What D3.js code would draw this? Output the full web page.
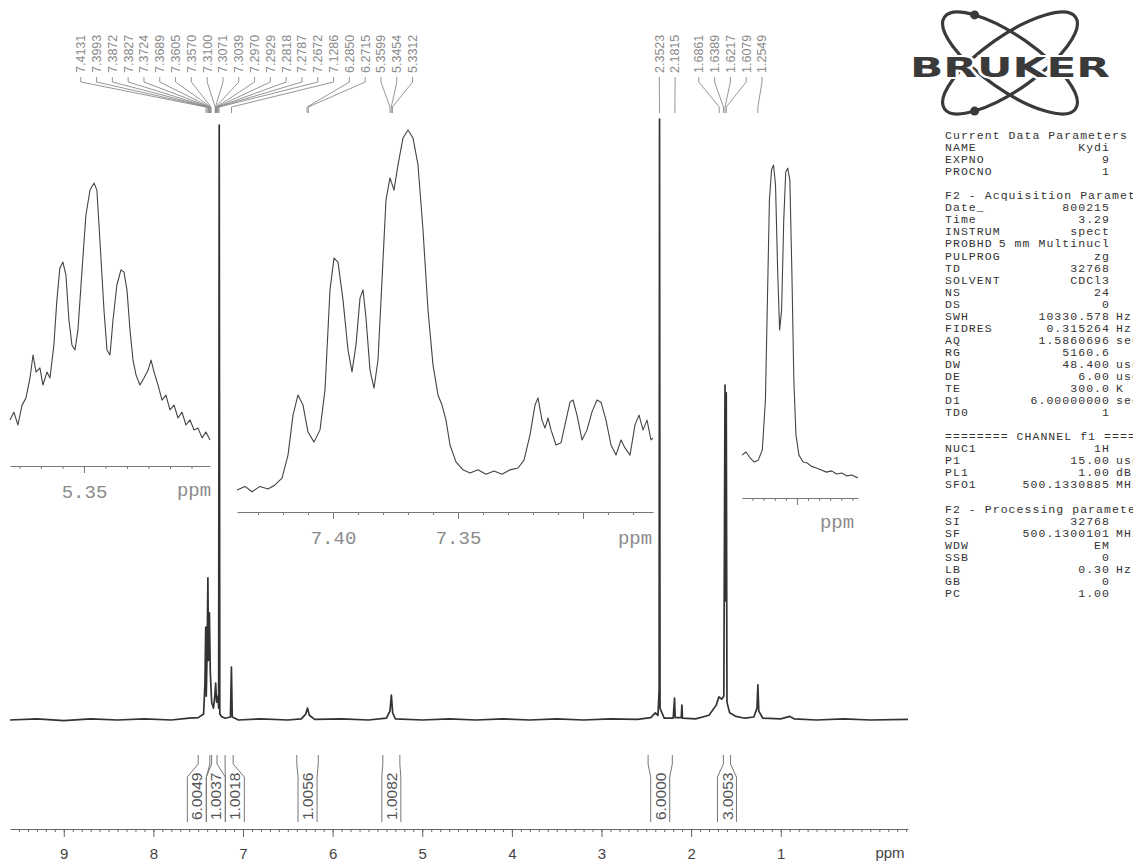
<!DOCTYPE html>
<html>
<head>
<meta charset="utf-8">
<script src="https://cdn.jsdelivr.net/npm/d3@7"></script>
<style>
body { margin: 0; background: #fff; }
svg { display: block; }
</style>
</head>
<body>
<div id="myChart"></div>
<script>
//----- data

// full 1H spectrum, [ppm, intensity], 2.35 singlet ~ 100
var mainTrace = [
  [9.6, 0], [9.3, 0.2], [9.0, -0.1], [8.7, 0.2], [8.4, 0], [8.1, 0.2], [7.8, 0], [7.6, 0.3], [7.5, 0.4],
  [7.44, 1], [7.425, 6], [7.416, 15.6], [7.41, 4], [7.40, 12], [7.392, 23.9], [7.385, 10], [7.375, 18],
  [7.365, 8], [7.35, 3], [7.33, 2], [7.315, 4], [7.305, 6.2], [7.295, 3], [7.28, 4], [7.272, 2],
  [7.2655, 100], [7.259, 1], [7.24, 0.6], [7.20, 0.3], [7.14, 0.5], [7.1295, 8.9], [7.12, 0.5], [7.05, 0],
  [6.8, 0.2], [6.5, 0], [6.35, 0.2], [6.30, 1], [6.28, 2], [6.26, 0.8], [6.2, 0.1], [5.9, 0.2], [5.6, 0],
  [5.4, 0.3], [5.36, 1.5], [5.345, 4.2], [5.33, 1.2], [5.3, 0.2], [5.0, 0], [4.7, 0.2], [4.4, 0], [4.1, 0.2],
  [3.8, 0], [3.5, 0.2], [3.2, 0], [2.9, 0.2], [2.6, 0.1], [2.45, 0.4], [2.40, 1.2], [2.37, 0.8], [2.357, 5],
  [2.3523, 101], [2.347, 2], [2.30, 0.3], [2.20, 0.3], [2.185, 3.7], [2.178, 0.4], [2.11, 0.4], [2.103, 2.5],
  [2.096, 0.3], [1.95, 0.2], [1.80, 0.8], [1.72, 2.5], [1.69, 3.9], [1.66, 3.5], [1.635, 4], [1.6217, 56.3],
  [1.615, 20], [1.608, 55], [1.60, 3], [1.57, 1.2], [1.50, 0.6], [1.40, 0.3], [1.30, 0.5], [1.265, 2],
  [1.2549, 5.9], [1.245, 1.5], [1.20, 0.3], [1.0, 0.2], [0.90, 0.6], [0.85, 0.2], [0.6, 0], [0.3, 0.2],
  [0, 0], [-0.42, 0.1]
];

// expansion 5.29 - 5.38 ppm
var olefinTrace = [
  [5.3844, 14.3], [5.3826, 17.1], [5.3807, 12.5], [5.3788, 19.6], [5.377, 22.1], [5.3751, 29.3],
  [5.3737, 37.5], [5.3723, 31.4], [5.3705, 32.9], [5.3691, 26.8], [5.3672, 31.4], [5.3658, 29.3],
  [5.364, 41.1], [5.3626, 57.1], [5.3612, 68.6], [5.3598, 70.7], [5.3584, 66.1], [5.357, 50],
  [5.3556, 41.1], [5.3542, 39.3], [5.3528, 46.4], [5.3509, 67.9], [5.3491, 87.5], [5.3472, 96.4],
  [5.3453, 98.9], [5.344, 96.4], [5.3426, 78.6], [5.3407, 53.6], [5.3393, 39.3], [5.3379, 37.5],
  [5.3365, 50], [5.3347, 62.5], [5.3328, 67.9], [5.3314, 67.1], [5.33, 60.7], [5.3286, 46.4],
  [5.3272, 35.7], [5.3258, 30.4], [5.324, 26.8], [5.3221, 29.3], [5.3202, 32.1], [5.3188, 35.7],
  [5.3174, 31.4], [5.3156, 26.8], [5.3137, 21.4], [5.3119, 23.2], [5.31, 17.9], [5.3081, 19.6],
  [5.3063, 15], [5.3044, 17.1], [5.3026, 12.5], [5.3007, 14.3], [5.2988, 10.7], [5.297, 11.4],
  [5.2951, 7.9], [5.2933, 10], [5.2914, 7.1]
];

// expansion 7.27 - 7.44 ppm
var aromaticTrace = [
  [7.4384, 0], [7.4352, 1], [7.4324, -0.5], [7.4292, 1], [7.426, 0.3], [7.4232, 1.4], [7.4204, 3.3],
  [7.418, 9.7], [7.416, 20.8], [7.414, 26.4], [7.412, 23.6], [7.41, 16.1], [7.4076, 13.3], [7.4052, 16.7],
  [7.4032, 27.8], [7.4012, 55.6], [7.3996, 64.4], [7.398, 63.3], [7.396, 52.8], [7.394, 38.9],
  [7.3924, 32.8], [7.3908, 40.3], [7.3892, 53.3], [7.388, 55.6], [7.3868, 47.8], [7.3852, 33.3],
  [7.3836, 28.3], [7.382, 36.1], [7.3804, 58.3], [7.3788, 80.6], [7.3772, 86.7], [7.3756, 83.3],
  [7.374, 90.3], [7.372, 97.8], [7.37, 100], [7.368, 97.8], [7.366, 90.3], [7.364, 72.2], [7.362, 50],
  [7.36, 34.7], [7.358, 26.4], [7.3564, 23.6], [7.3548, 19.4], [7.3532, 12.5], [7.3508, 7.8],
  [7.348, 5.6], [7.3452, 4.7], [7.342, 5.6], [7.3388, 4.4], [7.3356, 5.3], [7.3324, 4.4], [7.3292, 5.6],
  [7.326, 6.1], [7.3236, 8.3], [7.3212, 15.3], [7.3192, 23.6], [7.318, 25.6], [7.3164, 19.4],
  [7.3152, 17.2], [7.314, 20], [7.3128, 16.7], [7.3108, 12.5], [7.3088, 13.1], [7.3068, 19.4],
  [7.3052, 24.4], [7.304, 25], [7.3024, 20.8], [7.3004, 13.9], [7.2984, 16.7], [7.2964, 21.7],
  [7.2944, 25], [7.2928, 24.4], [7.2908, 19.4], [7.2888, 12.5], [7.2868, 9.7], [7.2848, 13.9],
  [7.2832, 11.7], [7.2812, 9.7], [7.2792, 18.1], [7.2776, 20.8], [7.276, 16.7], [7.2744, 19.4],
  [7.2728, 13.9], [7.272, 14.4]
];

// expansion 1.54 - 1.65 ppm
var methylTrace = [
  [1.6495, 7.9], [1.6459, 8.9], [1.6422, 7], [1.6385, 5.7], [1.6349, 6.3], [1.6312, 9.5], [1.6284, 25.4],
  [1.6266, 57.1], [1.6248, 88.9], [1.6229, 98.4], [1.6211, 100], [1.6193, 93.7], [1.6174, 66.7],
  [1.6156, 47.6], [1.6138, 54], [1.6119, 82.5], [1.6101, 97.8], [1.6083, 99], [1.6064, 95.2],
  [1.6046, 66.7], [1.6028, 31.7], [1.6009, 14.3], [1.5982, 7.9], [1.5945, 5.7], [1.5908, 5.4],
  [1.5872, 4.4], [1.5826, 3.8], [1.578, 3.2], [1.5734, 2.5], [1.5688, 2.9], [1.5642, 1.9],
  [1.5596, 2.2], [1.555, 1.3], [1.5505, 1.6], [1.545, 0.6]
];

var peakLabels = [
  "7.4131", "7.3993", "7.3872", "7.3827", "7.3724", "7.3689", "7.3605", "7.3570",
  "7.3100", "7.3071", "7.3039", "7.2970", "7.2929", "7.2818", "7.2787", "7.2672",
  "7.1286", "6.2850", "6.2715", "5.3599", "5.3454", "5.3312",
  "2.3523", "2.1815", "1.6861", "1.6389", "1.6217", "1.6079", "1.2549"
];

var integrals = [
  { from: 7.50, to: 7.37, value: "6.0049" },
  { from: 7.35, to: 7.29, value: "1.0037" },
  { from: 7.20, to: 7.11, value: "1.0018" },
  { from: 6.40, to: 6.16, value: "1.0056" },
  { from: 5.44, to: 5.25, value: "1.0082" },
  { from: 2.48, to: 2.21, value: "6.0000" },
  { from: 1.64, to: 1.56, value: "3.0053" }
];

var xTicks = [9, 8, 7, 6, 5, 4, 3, 2, 1];

var paramRows = [
  ["Current Data Parameters"],
  ["NAME", "Kydi"],
  ["EXPNO", "9"],
  ["PROCNO", "1"],
  [],
  ["F2 - Acquisition Parameters"],
  ["Date_", "800215"],
  ["Time", "3.29"],
  ["INSTRUM", "spect"],
  ["PROBHD", "5 mm Multinucl"],
  ["PULPROG", "zg"],
  ["TD", "32768"],
  ["SOLVENT", "CDCl3"],
  ["NS", "24"],
  ["DS", "0"],
  ["SWH", "10330.578", "Hz"],
  ["FIDRES", "0.315264", "Hz"],
  ["AQ", "1.5860696", "sec"],
  ["RG", "5160.6"],
  ["DW", "48.400", "usec"],
  ["DE", "6.00", "usec"],
  ["TE", "300.0", "K"],
  ["D1", "6.00000000", "sec"],
  ["TD0", "1"],
  [],
  ["======== CHANNEL f1 ========"],
  ["NUC1", "1H"],
  ["P1", "15.00", "usec"],
  ["PL1", "1.00", "dB"],
  ["SFO1", "500.1330885", "MHz"],
  [],
  ["F2 - Processing parameters"],
  ["SI", "32768"],
  ["SF", "500.1300101", "MHz"],
  ["WDW", "EM"],
  ["SSB", "0"],
  ["LB", "0.30", "Hz"],
  ["GB", "0"],
  ["PC", "1.00"]
];

//----- drawing

var svg = d3.select("#myChart").append("svg")
  .attr("width", 1133)
  .attr("height", 863)
  .style("background", "#fff");

var x = d3.scaleLinear().domain([9.6, -0.42]).range([10, 908]);
var y = d3.scaleLinear().domain([0, 100]).range([720, 125]);

// spread labels so they don't overlap, keeping each group centred on its peaks
function spread(targets, gap) {
  var groups = [];
  targets.forEach(function(t) {
    groups.push({ sum: t, n: 1 });
    while (groups.length > 1) {
      var b = groups[groups.length - 1], a = groups[groups.length - 2];
      var aHi = a.sum / a.n + (a.n - 1) * gap / 2;
      var bLo = b.sum / b.n - (b.n - 1) * gap / 2;
      if (aHi + gap <= bLo) break;
      groups.pop();
      a.sum += b.sum; a.n += b.n;
    }
  });
  var out = [];
  groups.forEach(function(g) {
    var start = g.sum / g.n - (g.n - 1) * gap / 2;
    for (var i = 0; i < g.n; i++) out.push(start + i * gap);
  });
  return out;
}

// main trace
var line = d3.line()
  .x(function(d) { return x(d[0]); })
  .y(function(d) { return y(d[1]); });

svg.append("path")
  .datum(mainTrace)
  .attr("d", line)
  .attr("fill", "none")
  .attr("stroke", "#333")
  .attr("stroke-width", 1.7)
  .attr("stroke-linejoin", "round");

// main axis
var axisG = svg.append("g").attr("transform", "translate(0,829)");
axisG.call(d3.axisBottom(x).tickValues(d3.range(-4, 96).map(function(v) { return v / 10; }))
    .tickSize(3).tickSizeOuter(0).tickFormat(""));
axisG.call(function(g) { g.selectAll("line,path").attr("stroke", "#666"); });
var axisMajor = svg.append("g").attr("transform", "translate(0,829)");
axisMajor.call(d3.axisBottom(x).tickValues(xTicks).tickSize(8).tickSizeOuter(0).tickPadding(11)
    .tickFormat(d3.format("d")));
axisMajor.select(".domain").remove();
axisMajor.selectAll("line").attr("stroke", "#666");
axisMajor.selectAll("text")
  .attr("fill", "#444")
  .style("font", "15px 'Liberation Sans', Arial, sans-serif");
svg.append("text")
  .attr("x", 890).attr("y", 858)
  .attr("text-anchor", "middle")
  .attr("fill", "#444")
  .style("font", "15px 'Liberation Sans', Arial, sans-serif")
  .text("ppm");

// expansions
var insets = [
  { trace: olefinTrace, dom: [5.3844, 5.2914], rng: [10, 210], yr: [460, 180], axisY: 466,
    major: [5.35], labels: [5.35], ppmX: 194, labelY: 496 },
  { trace: aromaticTrace, dom: [7.4384, 7.272], rng: [237, 653], yr: [490, 130], axisY: 512,
    major: [7.40, 7.35, 7.30], labels: [7.40, 7.35], ppmX: 635, labelY: 544 },
  { trace: methylTrace, dom: [1.6495, 1.545], rng: [742, 858], yr: [480, 165], axisY: 498,
    major: [1.60], labels: [], ppmX: 837, labelY: 528 }
];

insets.forEach(function(ins) {
  var xi = d3.scaleLinear().domain(ins.dom).range(ins.rng);
  var yi = d3.scaleLinear().domain([0, 100]).range(ins.yr);
  var li = d3.line()
    .x(function(d) { return xi(d[0]); })
    .y(function(d) { return yi(d[1]); });

  svg.append("path")
    .datum(ins.trace)
    .attr("d", li)
    .attr("fill", "none")
    .attr("stroke", "#444")
    .attr("stroke-width", 1.1)
    .attr("stroke-linejoin", "round");

  var lo = Math.ceil(Math.min(ins.dom[0], ins.dom[1]) * 100);
  var hi = Math.floor(Math.max(ins.dom[0], ins.dom[1]) * 100);
  var minor = d3.range(lo, hi + 1).map(function(v) { return v / 100; });

  var g = svg.append("g").attr("transform", "translate(0," + ins.axisY + ")");
  g.call(d3.axisBottom(xi).tickValues(minor).tickSize(3).tickSizeOuter(0).tickFormat(""));
  g.selectAll("line,path").attr("stroke", "#777");

  var gm = svg.append("g").attr("transform", "translate(0," + ins.axisY + ")");
  gm.call(d3.axisBottom(xi).tickValues(ins.major).tickSize(7).tickSizeOuter(0).tickPadding(12)
    .tickFormat(function(d) { return ins.labels.indexOf(d) >= 0 ? d3.format(".2f")(d) : ""; }));
  gm.select(".domain").remove();
  gm.selectAll("line").attr("stroke", "#777");
  gm.selectAll("text")
    .attr("fill", "#8a8a8a")
    .style("font", "19px 'Liberation Mono', 'DejaVu Sans Mono', monospace");

  svg.append("text")
    .attr("x", ins.ppmX).attr("y", ins.labelY)
    .attr("text-anchor", "middle")
    .attr("fill", "#8a8a8a")
    .style("font", "19px 'Liberation Mono', 'DejaVu Sans Mono', monospace")
    .text("ppm");
});

// peak labels along the top
var peakPpm = peakLabels.map(function(s) { return +s; });
var peakX = peakPpm.map(function(p) { return x(p); });
var labelX = spread(peakX, 15.8);

var pl = svg.append("g");
pl.selectAll("path")
  .data(peakLabels)
  .enter()
  .append("path")
  .attr("d", function(d, i) {
    return "M" + labelX[i] + ",77 L" + labelX[i] + ",82 L" + peakX[i] + ",107 L" + peakX[i] + ",113";
  })
  .attr("fill", "none")
  .attr("stroke", "#8a8a8a")
  .attr("stroke-width", 0.9);

pl.selectAll("text")
  .data(peakLabels)
  .enter()
  .append("text")
  .attr("transform", function(d, i) { return "translate(" + labelX[i] + ",73) rotate(-90)"; })
  .attr("dy", "0.35em")
  .attr("fill", "#8a8a8a")
  .style("font", "12.5px 'Liberation Sans', Arial, sans-serif")
  .text(function(d) { return d; });

// integrals along the bottom
var intMid = integrals.map(function(d) { return x((d.from + d.to) / 2); });
var intX = spread(intMid, 19);
var ig = svg.append("g");
integrals.forEach(function(d, i) {
  var xa = x(d.from), xb = x(d.to), c = intX[i], w = 9.5;
  ig.append("path")
    .attr("d", "M" + xa + ",755 L" + xa + ",764 L" + (c - w) + ",777 L" + (c - w) + ",822" +
               "M" + xb + ",755 L" + xb + ",764 L" + (c + w) + ",777 L" + (c + w) + ",822")
    .attr("fill", "none")
    .attr("stroke", "#777")
    .attr("stroke-width", 1);
  ig.append("text")
    .attr("transform", "translate(" + c + ",820) rotate(-90)")
    .attr("dy", "0.36em")
    .attr("fill", "#555")
    .style("font", "15.5px 'Liberation Sans', Arial, sans-serif")
    .text(d.value);
});

// parameter listing
var pg = svg.append("g")
  .style("font", "11.5px 'Liberation Mono', 'DejaVu Sans Mono', monospace")
  .style("letter-spacing", "1.05px")
  .attr("fill", "#333");
paramRows.forEach(function(r, i) {
  var yy = 139 + i * 12.05;
  if (r.length === 0) return;
  pg.append("text").attr("x", 945).attr("y", yy).text(r[0]);
  if (r[1] !== undefined) {
    pg.append("text").attr("x", 1110).attr("y", yy).attr("text-anchor", "end").text(r[1]);
  }
  if (r[2] !== undefined) {
    pg.append("text").attr("x", 1116).attr("y", yy).text(r[2]);
  }
});

// Bruker logo
var logo = svg.append("g").attr("transform", "translate(1010,63)");
[35, -35].forEach(function(a) {
  logo.append("ellipse")
    .attr("rx", 80).attr("ry", 27)
    .attr("transform", "rotate(" + a + ")")
    .attr("fill", "none")
    .attr("stroke", "#3a3a3a")
    .attr("stroke-width", 3.2);
});
function orbitPoint(rot, t) {
  var r = rot * Math.PI / 180, u = 80 * Math.cos(t * Math.PI / 180), v = 27 * Math.sin(t * Math.PI / 180);
  return [u * Math.cos(r) - v * Math.sin(r), u * Math.sin(r) + v * Math.cos(r)];
}
[orbitPoint(35, -135), orbitPoint(-35, 135)].forEach(function(p) {
  logo.append("circle").attr("cx", p[0]).attr("cy", p[1]).attr("r", 4.5).attr("fill", "#3a3a3a");
});
logo.append("text")
  .attr("x", -100).attr("y", 14)
  .attr("textLength", 200)
  .attr("lengthAdjust", "spacingAndGlyphs")
  .attr("fill", "#3a3a3a")
  .attr("stroke", "#fff")
  .attr("stroke-width", 4)
  .attr("paint-order", "stroke")
  .style("font", "900 27px 'DejaVu Sans', Arial, sans-serif")
  .text("BRUKER");
</script>
</body>
</html>
